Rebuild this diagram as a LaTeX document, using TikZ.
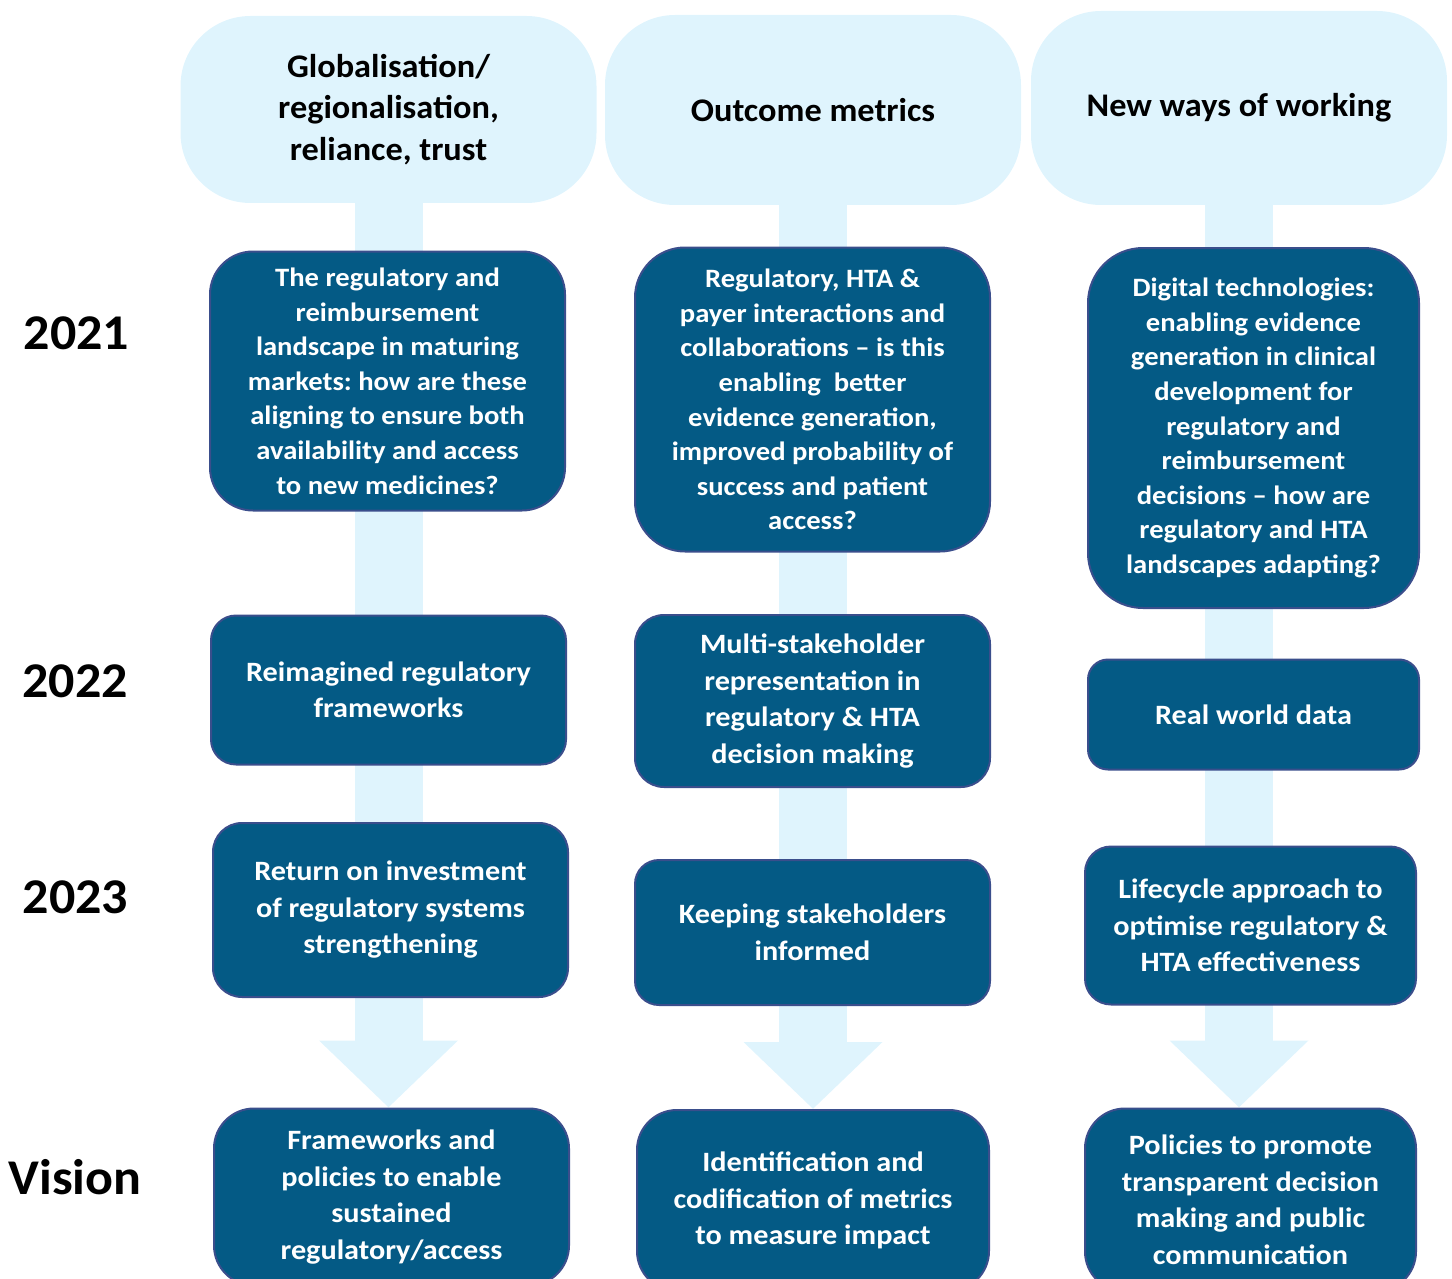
\documentclass[tikz,border=0pt]{standalone}
\usepackage{fontspec}
\setmainfont{Carlito}
\newfontfamily\boxfont{Carlito}[FakeStretch=1.08,Ligatures=TeX]
\newfontfamily\headfont{Carlito}[FakeStretch=1.04,Ligatures=TeX]
\frenchspacing
\usetikzlibrary{arrows.meta,backgrounds}
\definecolor{headblue}{RGB}{223,244,253}
\definecolor{boxblue}{RGB}{4,90,133}
\definecolor{boxline}{RGB}{58,78,140}
\tikzset{
  hd/.style   = {rectangle, fill = headblue, rounded corners = 70pt,
                 minimum width = 416pt, align = center, inner sep = 0pt,
                 font = \headfont\fontsize{33}{41.5}\selectfont\bfseries},
  box/.style  = {rectangle, draw = boxline, line width = 2pt, fill = boxblue,
                 text = white, align = center, inner sep = 0pt,
                 font = \boxfont\fontsize{28}{36.5}\selectfont\bfseries},
  long/.style = {box, font = \boxfont\fontsize{26.5}{34.6}\selectfont\bfseries},
  yr/.style   = {inner sep = 0pt, font = \headfont\fontsize{50}{60}\selectfont\bfseries},
  shaft/.style = {draw = headblue, line width = 68pt,
                  -{Triangle[width=135pt,length=67pt]}}
}
\begin{document}
\begin{tikzpicture}[x=1pt,y=-1pt]
        \useasboundingbox (0,0) rectangle (1452,1279);
        \clip (0,0) rectangle (1452,1279);
        % themes
        \node[hd,minimum height=187pt] (h1) at (388.5,109.5)
          {Globalisation/\\regionalisation,\\reliance, trust};
        \node[hd,minimum height=190pt] (h2) at (813,110) {Outcome metrics};
        \node[hd,minimum height=194pt] (h3) at (1239,108) {New ways of working};
        % years
        \node[yr] (y1) at (76.5,333) {2021};
        \node[yr] (y2) at (75,681) {2022};
        \node[yr] (y3) at (75.5,897) {2023};
        \node[yr] (y4) at (75,1177) {Vision};
        % column 1
        \node[long,minimum width=355pt,minimum height=259pt,rounded corners=43pt]
          (b11) at (387.5,381) {The regulatory and\\reimbursement\\landscape in maturing\\markets: how are these\\aligning to ensure both\\availability and access\\to new medicines?};
        \node[box,minimum width=355pt,minimum height=149pt,rounded corners=25pt]
          (b12) at (388.5,690) {Reimagined regulatory\\frameworks};
        \node[box,minimum width=355pt,minimum height=174pt,rounded corners=29pt]
          (b13) at (390.5,910) {Return on investment\\of regulatory systems\\strengthening};
        \node[box,minimum width=355pt,minimum height=177pt,rounded corners=40pt]
          (v1) at (391.5,1197) {Frameworks and\\policies to enable\\sustained\\regulatory/access};
        % column 2
        \node[long,minimum width=355pt,minimum height=304pt,rounded corners=50pt]
          (b21) at (812.5,399.5) {Regulatory, HTA \&\\payer interactions and\\collaborations – is this\\enabling\ \ better\\evidence generation,\\improved probability of\\success and patient\\access?};
        \node[box,minimum width=355pt,minimum height=172pt,rounded corners=29pt]
          (b22) at (812.5,701) {Multi-stakeholder\\representation in\\regulatory \& HTA\\decision making};
        \node[box,minimum width=355pt,minimum height=145pt,rounded corners=24pt]
          (b23) at (812.5,932.5) {Keeping stakeholders\\informed};
        \node[box,minimum width=352pt,minimum height=181pt,rounded corners=40pt]
          (v2) at (813,1200.5) {Identification and\\codification of metrics\\to measure impact};
        % column 3
        \node[long,minimum width=331pt,minimum height=360pt,rounded corners=55pt]
          (b31) at (1253.5,428) {Digital technologies:\\enabling evidence\\generation in clinical\\development for\\regulatory and\\reimbursement\\decisions – how are\\regulatory and HTA\\landscapes adapting?};
        \node[box,minimum width=331pt,minimum height=110pt,rounded corners=20pt]
          (b32) at (1253.5,714.5) {Real world data};
        \node[box,minimum width=331pt,minimum height=158pt,rounded corners=26pt]
          (b33) at (1250.5,925.5) {Lifecycle approach to\\optimise regulatory \&\\HTA effectiveness};
        \node[box,minimum width=331pt,minimum height=183pt,rounded corners=40pt]
          (v3) at (1250.5,1200) {Policies to promote\\transparent decision\\making and public\\communication};
        % block arrows behind the boxes
        \begin{scope}[on background layer]
          \draw[shaft] (h1.south) -- (h1.south |- v1.north);
          \draw[shaft] (h2.south) -- (h2.south |- v2.north);
          \draw[shaft] (h3.south) -- (h3.south |- v3.north);
        \end{scope}
\end{tikzpicture}
\end{document}
